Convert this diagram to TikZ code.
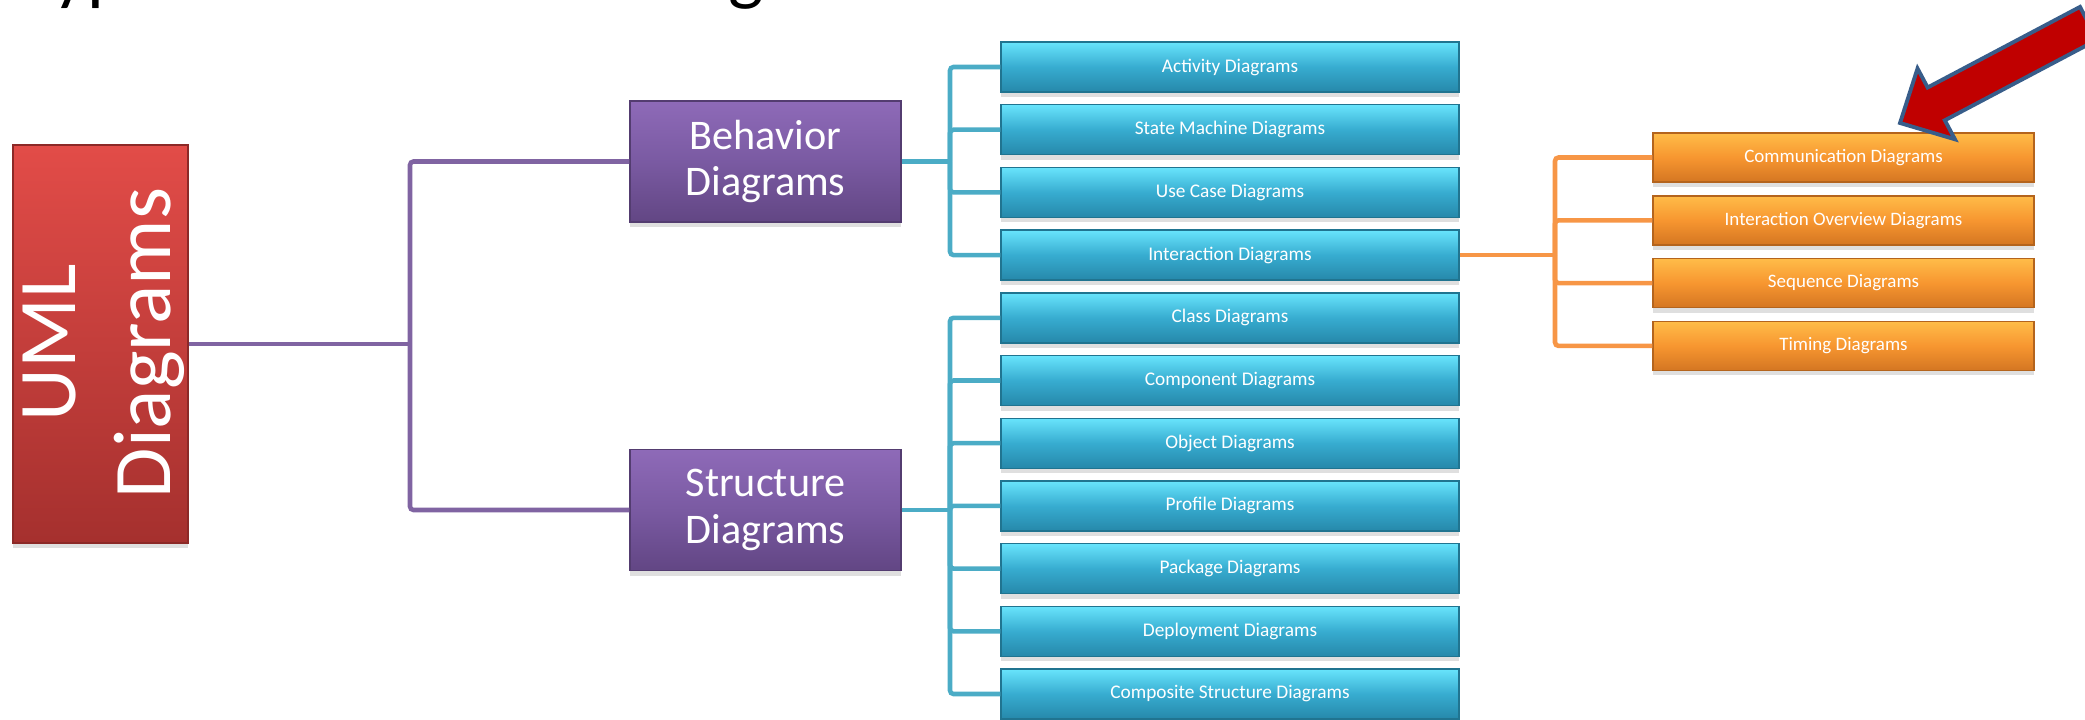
\documentclass[tikz,border=0pt]{standalone}
\usepackage{fontspec}
\setmainfont{Carlito}
\usetikzlibrary{shadows}

\definecolor{umltop}{RGB}{226,76,72}
\definecolor{umlbot}{RGB}{165,48,46}
\definecolor{behtop}{RGB}{142,106,184}
\definecolor{behmid}{RGB}{122,90,162}
\definecolor{behbot}{RGB}{98,70,132}
\definecolor{cyntop}{RGB}{104,228,252}
\definecolor{cynmid}{RGB}{55,172,208}
\definecolor{cynbot}{RGB}{38,136,170}
\definecolor{orgtop}{RGB}{255,188,72}
\definecolor{orgmid}{RGB}{247,150,48}
\definecolor{orgbot}{RGB}{212,118,34}
\definecolor{purpleline}{RGB}{128,100,162}
\definecolor{cyanline}{RGB}{75,172,198}
\definecolor{orangeline}{RGB}{247,150,70}
\definecolor{arrowred}{RGB}{192,0,0}
\definecolor{arrowblue}{RGB}{56,93,138}

\begin{document}
\begin{tikzpicture}[
  box/.style={inner sep=0pt, text=white, align=center, line width=0.4pt,
    drop shadow={shadow xshift=0pt, shadow yshift=-0.05cm, opacity=0.25}},
  umlbox/.style={box, minimum width=1.75cm, minimum height=3.98cm,
    top color=umltop, bottom color=umlbot, draw=umlbot!85!black},
  grpbox/.style={box, minimum width=2.71cm, minimum height=1.21cm,
    top color=behtop, bottom color=behbot, middle color=behmid, draw=behbot!85!black,
    font=\fontsize{12}{13.2}\selectfont},
  leafbox/.style={box, minimum width=4.58cm, minimum height=0.5cm,
    top color=cyntop, bottom color=cynbot, middle color=cynmid, draw=cynbot!85!black,
    font=\fontsize{5.5}{6}\selectfont},
  subbox/.style={box, minimum width=3.81cm, minimum height=0.49cm,
    top color=orgtop, bottom color=orgbot, middle color=orgmid, draw=orgbot!85!black,
    font=\fontsize{5.4}{6}\selectfont},
  purpleconn/.style={draw=purpleline, line width=1.3pt, rounded corners=1pt},
  cyanconn/.style={draw=cyanline, line width=1.3pt, rounded corners=1pt},
  orangeconn/.style={draw=orangeline, line width=1.3pt, rounded corners=1pt}
]
\useasboundingbox (0,0) rectangle (20.85,-7.19);

% title (cut by the page edge)
\node[anchor=base west, inner sep=0pt, font=\fontsize{21.3}{25}\selectfont] (title) at (0.20,0.03)
  {Types of interaction diagrams in UML 2 ?};

% root
\node[umlbox] (uml) at (1.005,-3.44) {};
\node[rotate=90, text=white, align=center, inner sep=0pt,
  font=\fontsize{23.3}{27}\selectfont] (umltxt) at (1.04,-3.43) {UML\\Diagrams};

% groups
\node[grpbox] (beh) at (7.655,-1.615) {Behavior\\Diagrams};
\node[grpbox] (str) at (7.655,-5.10) {Structure\\Diagrams};

% behavior diagrams
\node[leafbox] (act) at (12.30,-0.670) {Activity Diagrams};
\node[leafbox] (stm) at (12.30,-1.297) {State Machine Diagrams};
\node[leafbox] (use) at (12.30,-1.924) {Use Case Diagrams};
\node[leafbox] (int) at (12.30,-2.551) {Interaction Diagrams};

% structure diagrams
\node[leafbox] (cls) at (12.30,-3.178) {Class Diagrams};
\node[leafbox] (cmp) at (12.30,-3.805) {Component Diagrams};
\node[leafbox] (obj) at (12.30,-4.432) {Object Diagrams};
\node[leafbox] (pro) at (12.30,-5.059) {Profile Diagrams};
\node[leafbox] (pkg) at (12.30,-5.686) {Package Diagrams};
\node[leafbox] (dep) at (12.30,-6.313) {Deployment Diagrams};
\node[leafbox] (cms) at (12.30,-6.940) {Composite Structure Diagrams};

% interaction diagrams
\node[subbox] (com) at (18.435,-1.575) {Communication Diagrams};
\node[subbox] (ovr) at (18.435,-2.203) {Interaction Overview Diagrams};
\node[subbox] (seq) at (18.435,-2.831) {Sequence Diagrams};
\node[subbox] (tim) at (18.435,-3.459) {Timing Diagrams};

% connectors
\coordinate (pj) at (4.10,-3.44);
\draw[purpleconn] (uml) -- (pj);
\draw[purpleconn] (beh.west) -| (pj) |- (str.west);

\coordinate (bj) at (9.50,-1.615);
\draw[cyanconn] (beh) -- (bj);
\draw[cyanconn] (act.west) -| (bj) |- (int.west);
\draw[cyanconn] (bj) |- (stm.west);
\draw[cyanconn] (bj) |- (use.west);

\coordinate (sj) at (9.50,-5.10);
\draw[cyanconn] (str) -- (sj);
\draw[cyanconn] (cls.west) -| (sj) |- (cms.west);
\draw[cyanconn] (sj) |- (cmp.west);
\draw[cyanconn] (sj) |- (obj.west);
\draw[cyanconn] (sj) |- (pro.west);
\draw[cyanconn] (sj) |- (pkg.west);
\draw[cyanconn] (sj) |- (dep.west);

\coordinate (ij) at (15.55,-2.551);
\draw[orangeconn] (int) -- (ij);
\draw[orangeconn] (com.west) -| (ij) |- (tim.west);
\draw[orangeconn] (ij) |- (ovr.west);
\draw[orangeconn] (ij) |- (seq.west);

% pointer arrow
\draw[fill=arrowred, draw=arrowblue, line width=1.1pt, line join=miter]
  (19.00,-1.23) -- (19.175,-0.685) -- (19.276,-0.875) -- (20.80,-0.069)
  -- (20.972,-0.397) -- (19.448,-1.203) -- (19.549,-1.393) -- cycle;
\end{tikzpicture}
\end{document}
